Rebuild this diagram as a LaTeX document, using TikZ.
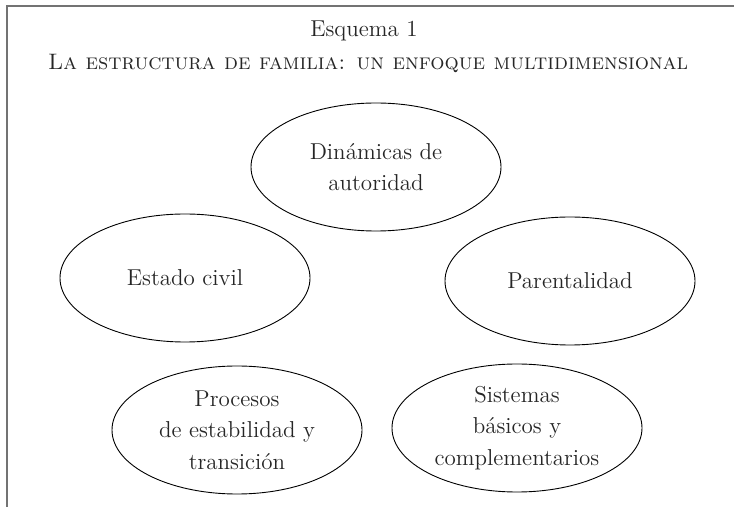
\documentclass[tikz,border=0pt]{standalone}
\usetikzlibrary{shapes.geometric, positioning}

\begin{document}
\begin{tikzpicture}[
      x=0.5pt, y=-0.5pt,
      every node/.style={font=\fontsize{11.5}{15.8}\selectfont, text=black!85},
      oval/.style={ellipse, draw, line width=0.45pt, minimum width=125pt, minimum height=64pt, align=center, inner sep=0pt},
      frame/.style={draw=black!55, line width=0.75pt}
    ]
    \useasboundingbox (0,0) rectangle (734,507);

    % Frame
    \draw[frame] (734,6) -- (7,6) -- (7,507);

    % Title
    \node[anchor=base] (esquema) at (364,37) {Esquema 1};
    \node[anchor=base, font=\fontsize{11.2}{14}\selectfont] (titulo) at (368,70) {\textsc{La estructura de familia: un enfoque multidimensional}};

    % Nodes
    \node[oval] (autoridad) at (376,167) {Din\'amicas de\\autoridad};
    \node[oval] (civil) at (185,278) {Estado civil};
    \node[oval] (parental) at (570,281) {Parentalidad};
    \node[oval] (procesos) at (237,430) {Procesos\\de estabilidad y\\transici\'on};
    \node[oval] (sistemas) at (517,428) {Sistemas\\b\'asicos y\\complementarios};
  \end{tikzpicture}
\end{document}
